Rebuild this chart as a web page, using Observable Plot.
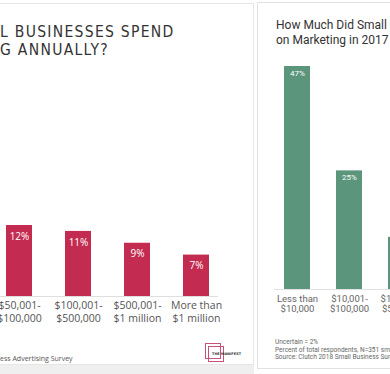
<!DOCTYPE html>
<html>
<head>
<meta charset="utf-8">
<script src="https://cdn.jsdelivr.net/npm/d3@7"></script>
<script src="https://cdn.jsdelivr.net/npm/@observablehq/plot@0.6"></script>
<style>
  html, body { margin: 0; padding: 0; background: #ffffff; }
  body { width: 390px; height: 374px; overflow: hidden; position: relative; }
  .abs { position: absolute; }
  #leftCard { left: -2px; top: 3px; width: 254px; height: 360px; border: 1px solid #e6e6e6; background: #fff; }
  #band { left: 0; top: 365px; width: 254px; height: 9px; background: #efefef; }
  #rightCard { left: 257px; top: 2px; width: 140px; height: 365px; border: 1px solid #e2e2e2; background: #fff; }
  #leftClip { left: 0; top: 0; width: 253px; height: 364px; overflow: hidden; }
  #rightClip { left: 257px; top: 0; width: 133px; height: 368px; overflow: hidden; }
  #leftTitle { left: 0; top: 24px; font-family: "Liberation Sans Narrow", "DejaVu Sans Condensed", sans-serif; font-size: 15.5px; line-height: 17.5px; letter-spacing: 1.3px; color: #333; white-space: pre; }
  #leftSource { left: 0; top: 355px; font-family: "Open Sans", sans-serif; font-size: 7px; line-height: 8px; color: #555; white-space: pre; }
  #rightTitle { left: 276px; top: 18px; font-family: Roboto, sans-serif; font-size: 12px; line-height: 14.5px; color: #333; white-space: pre; }
  #rightNotes { left: 275px; top: 339px; font-family: Roboto, sans-serif; font-size: 6.5px; line-height: 7.5px; color: #666; white-space: pre; }
  #logo { left: 205px; top: 343px; width: 42px; height: 20px; }
  .sq { position: absolute; border: 1.5px solid #c7517a; width: 14px; height: 14px; }
  .logoText { position: absolute; left: 7px; top: 9px; font-family: "DejaVu Sans", sans-serif; font-size: 3.5px; font-weight: bold; color: #333; white-space: pre; }
</style>
</head>
<body>
<div id="leftCard" class="abs"></div>
<div id="band" class="abs"></div>
<div id="rightCard" class="abs"></div>
<div id="leftClip" class="abs"></div>
<div id="rightClip" class="abs"></div>
<div id="leftTitle" class="abs">L BUSINESSES SPEND
G ANNUALLY?</div>
<div id="leftSource" class="abs">ess Advertising Survey</div>
<div id="rightTitle" class="abs">How Much Did Small
on Marketing in 2017</div>
<div id="rightNotes" class="abs">Uncertain = 2%
Percent of total respondents, N=351 small
Source: Clutch 2018 Small Business Survey</div>
<div id="logo" class="abs">
  <div class="sq" style="left:0;top:0;"></div>
  <div class="sq" style="left:3px;top:3px;"></div>
  <div class="logoText">THE MANIFEST</div>
</div>
<script>
// ---- Data ----
const leftCategories = ["$50,001-\n$100,000", "$100,001-\n$500,000", "$500,001-\n$1 million", "More than\n$1 million"];
const leftValues = [12, 11, 9, 7];

const rightCategories = ["Less than\n$10,000", "$10,001-\n$100,000", "$100,001-\n$500,000"];
const rightValues = [47, 25, 11];

const leftData = leftCategories.map((c, i) => ({cat: c, value: leftValues[i]}));
const rightData = rightCategories.map((c, i) => ({cat: c, value: rightValues[i]}));

const svgStyle = {background: "transparent", maxWidth: "none", overflow: "visible"};

// ---- Left chart (crimson) ----
const left = Plot.plot({
  width: 320,
  height: 364,
  marginLeft: 56,
  marginRight: 42,
  marginTop: 225,
  marginBottom: 68,
  style: {...svgStyle, fontFamily: "'Open Sans', sans-serif"},
  x: {domain: leftCategories, paddingInner: 0.56, paddingOuter: 0.15, axis: null},
  y: {domain: [0, 12], axis: null},
  marks: [
    Plot.barY(leftData, {x: "cat", y: "value", fill: "#c42b50"}),
    Plot.ruleY([0], {stroke: "#dedede", strokeWidth: 1}),
    Plot.text(leftData, {x: "cat", y: "value", text: d => d.value + "%", dy: 11, fill: "#ffffff", fontSize: 10}),
    Plot.text(leftData, {x: "cat", y: () => 0, text: "cat", lineAnchor: "top", dy: 4, fill: "#555", fontSize: 10.5, lineHeight: 1.2})
  ]
});
left.style.position = "absolute";
left.style.left = "-60px";
left.style.top = "0px";
document.getElementById("leftClip").appendChild(left);

// ---- Right chart (green) ----
const right = Plot.plot({
  width: 200,
  height: 368,
  marginLeft: 17,
  marginRight: 32.5,
  marginTop: 66,
  marginBottom: 79,
  style: {...svgStyle, fontFamily: "Roboto, sans-serif"},
  x: {domain: rightCategories, paddingInner: 0.503, paddingOuter: 0.19, axis: null},
  y: {domain: [0, 47], axis: null},
  marks: [
    Plot.barY(rightData, {x: "cat", y: "value", fill: "#5b957b"}),
    Plot.ruleY([0], {stroke: "#e2e2e2", strokeWidth: 1}),
    Plot.text(rightData, {x: "cat", y: "value", text: d => d.value + "%", dy: 7, fill: "#ffffff", fontSize: 8}),
    Plot.text(rightData, {x: "cat", y: () => 0, text: "cat", lineAnchor: "top", dy: 5, fill: "#666", fontSize: 9.5, lineHeight: 1.05})
  ]
});
right.style.position = "absolute";
right.style.left = "0px";
right.style.top = "0px";
document.getElementById("rightClip").appendChild(right);
</script>
</body>
</html>
